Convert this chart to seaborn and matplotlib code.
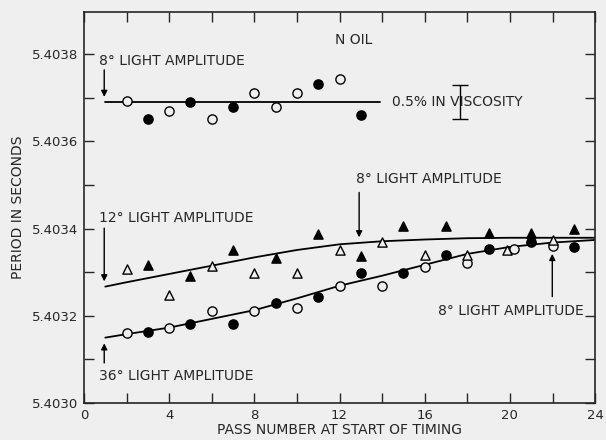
import numpy as np
import pandas as pd
import matplotlib
matplotlib.use("Agg")
import matplotlib.pyplot as plt
from matplotlib.ticker import MultipleLocator, FormatStrFormatter
import seaborn as sns

# ---------------------------------------------------------
# Data (period in seconds)
# ---------------------------------------------------------
# N oil, 8 deg light amplitude
top_open_x = [2, 4, 6, 8, 9, 10, 12]
top_open_y = [5.403693, 5.403670, 5.403651, 5.403710, 5.403680, 5.403710, 5.403742]
top_filled_x = [3, 5, 7, 11, 13]
top_filled_y = [5.403651, 5.403691, 5.403680, 5.403732, 5.403660]
top_line_x = [1, 13.9]
top_line_y = [5.403691, 5.403691]

# 12 deg light amplitude (triangles)
tri_open_x = [2, 4, 6, 8, 10, 12, 14, 16, 18, 19.85, 22]
tri_open_y = [5.403307, 5.403248, 5.403315, 5.403299, 5.403298, 5.403351,
              5.403370, 5.403340, 5.403339, 5.403351, 5.403373]
tri_filled_x = [3, 5, 7, 9, 11, 13, 15, 17, 19, 21, 21, 23]
tri_filled_y = [5.403317, 5.403292, 5.403351, 5.403332, 5.403388, 5.403337,
                5.403406, 5.403406, 5.403389, 5.403390, 5.403378, 5.403399]

# 36 deg light amplitude (circles)
circ_open_x = [2, 4, 6, 8, 10, 12, 14, 16, 18, 20.2, 22]
circ_open_y = [5.403160, 5.403171, 5.403211, 5.403211, 5.403218, 5.403269,
               5.403269, 5.403311, 5.403321, 5.403353, 5.403359]
circ_filled_x = [3, 5, 7, 9, 11, 13, 15, 17, 19, 21, 23]
circ_filled_y = [5.403162, 5.403182, 5.403182, 5.403229, 5.403243, 5.403298,
                 5.403298, 5.403340, 5.403353, 5.403370, 5.403357]

# drawn smooth curves
curve_x = [1, 2, 4, 6, 8, 10, 12, 14, 16, 18, 20, 22, 24]
upper_curve_y = [5.403267, 5.403277, 5.403296, 5.403315, 5.403334, 5.403351, 5.403364,
                 5.403371, 5.403375, 5.403378, 5.403379, 5.403379, 5.403379]
lower_curve_y = [5.403150, 5.403158, 5.403173, 5.403193, 5.403213, 5.403240, 5.403269,
                 5.403292, 5.403317, 5.403342, 5.403358, 5.403368, 5.403374]

# viscosity error bar
visc_x = 17.65
visc_y = 5.403690
visc_err = 0.000039

# ---------------------------------------------------------
# Plot
# ---------------------------------------------------------
sns.set_style("ticks")
plt.rcParams["font.family"] = ["DejaVu Sans"]
bg = "#efefef"

fig = plt.figure(figsize=(6.06, 4.40), dpi=100, facecolor=bg)
ax = fig.add_axes([0.1386, 0.084, 0.8434, 0.889])
ax.set_facecolor(bg)

line_kw = dict(color="black", linewidth=1.3, legend=False, ax=ax)
sns.lineplot(x=top_line_x, y=top_line_y, **line_kw)
sns.lineplot(x=curve_x, y=upper_curve_y, **line_kw)
sns.lineplot(x=curve_x, y=lower_curve_y, **line_kw)

open_kw = dict(facecolor=bg, edgecolor="black", linewidth=1.0, ax=ax, zorder=3, legend=False)
filled_kw = dict(color="black", edgecolor="black", linewidth=1.0, ax=ax, zorder=3, legend=False)

ms = 44
sns.scatterplot(x=top_open_x, y=top_open_y, marker="o", s=ms, **open_kw)
sns.scatterplot(x=top_filled_x, y=top_filled_y, marker="o", s=ms, **filled_kw)
sns.scatterplot(x=circ_open_x, y=circ_open_y, marker="o", s=ms, **open_kw)
sns.scatterplot(x=circ_filled_x, y=circ_filled_y, marker="o", s=ms, **filled_kw)
sns.scatterplot(x=tri_open_x, y=tri_open_y, marker="^", s=ms, **open_kw)
sns.scatterplot(x=tri_filled_x, y=tri_filled_y, marker="^", s=ms, **filled_kw)

ax.errorbar(visc_x, visc_y, yerr=visc_err, color="black", linewidth=1.0,
            capsize=6, capthick=1.0, zorder=2)

# ---------------------------------------------------------
# Annotations
# ---------------------------------------------------------
fs = 10
arrow = dict(arrowstyle="-|>", color="black", lw=1.0, mutation_scale=9,
             shrinkA=0, shrinkB=0)

ax.text(11.8, 5.403832, "N OIL", fontsize=fs, va="center")
ax.text(0.72, 5.403784, "8° LIGHT AMPLITUDE", fontsize=fs, va="center")
ax.annotate("", xy=(0.95, 5.403702), xytext=(0.95, 5.403764), arrowprops=arrow)
ax.text(14.45, 5.403691, "0.5% IN VISCOSITY", fontsize=fs, va="center")

ax.text(0.72, 5.403424, "12° LIGHT AMPLITUDE", fontsize=fs, va="center")
ax.annotate("", xy=(0.95, 5.403279), xytext=(0.95, 5.403401), arrowprops=arrow)

ax.text(12.75, 5.403513, "8° LIGHT AMPLITUDE", fontsize=fs, va="center")
ax.annotate("", xy=(12.92, 5.403380), xytext=(12.92, 5.403483), arrowprops=arrow)

ax.text(16.62, 5.403210, "8° LIGHT AMPLITUDE", fontsize=fs, va="center")
ax.annotate("", xy=(21.99, 5.403342), xytext=(21.99, 5.403244), arrowprops=arrow)

ax.text(0.72, 5.403063, "36° LIGHT AMPLITUDE", fontsize=fs, va="center")
ax.annotate("", xy=(0.95, 5.403137), xytext=(0.95, 5.403092), arrowprops=arrow)

# ---------------------------------------------------------
# Axes formatting
# ---------------------------------------------------------
ax.set_xlim(0, 24)
ax.set_ylim(5.4030, 5.403897)
ax.xaxis.set_major_locator(MultipleLocator(4))
ax.xaxis.set_minor_locator(MultipleLocator(2))
ax.yaxis.set_major_locator(MultipleLocator(0.0002))
ax.yaxis.set_minor_locator(MultipleLocator(0.0001))
ax.yaxis.set_major_formatter(FormatStrFormatter("%.4f"))
ax.tick_params(which="both", direction="in", top=True, right=True,
               length=7, width=1.0, labelsize=9.5, pad=4)
for sp in ax.spines.values():
    sp.set_linewidth(1.2)

ax.set_xlabel("PASS NUMBER AT START OF TIMING", fontsize=fs, labelpad=1)
ax.set_ylabel("PERIOD IN SECONDS", fontsize=fs, labelpad=5)

fig.savefig("out.png", dpi=100, facecolor=bg)
